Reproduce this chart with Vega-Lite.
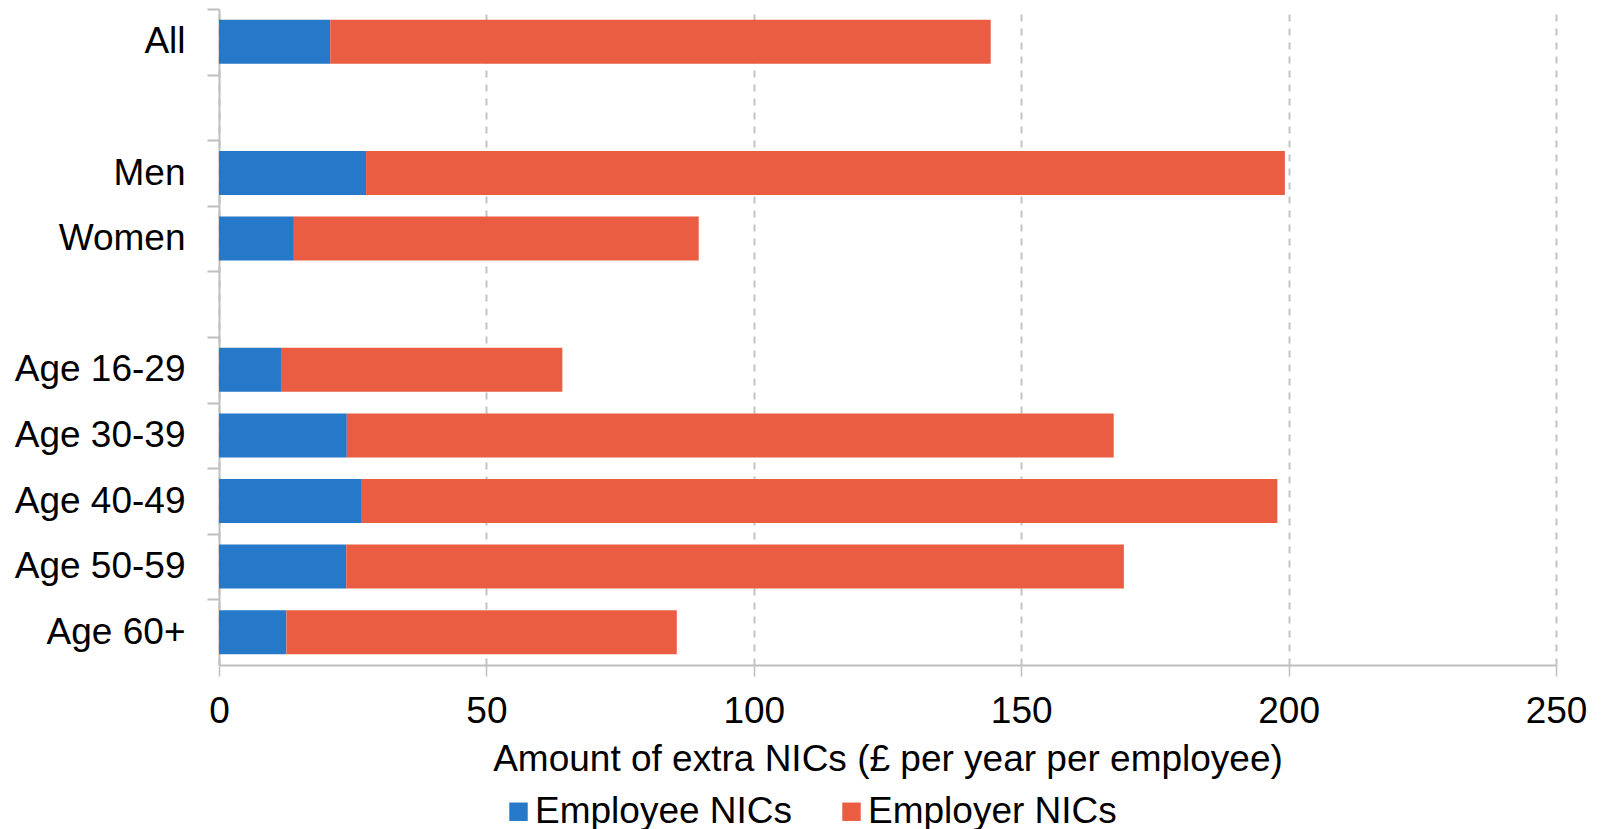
{
  "$schema": "https://vega.github.io/schema/vega-lite/v6.json",
  "width": 1337,
  "height": 656,
  "autosize": {"type": "none"},
  "padding": {"left": 219, "top": 9, "right": 46, "bottom": 164},
  "background": "white",
  "config": {
    "view": {"stroke": null},
    "font": "Liberation Sans"
  },
  "data": {
    "values": [
      {"group": "All", "type": "Employee NICs", "value": 20.8},
      {"group": "All", "type": "Employer NICs", "value": 123.5},
      {"group": "Men", "type": "Employee NICs", "value": 27.5},
      {"group": "Men", "type": "Employer NICs", "value": 171.8},
      {"group": "Women", "type": "Employee NICs", "value": 14.0},
      {"group": "Women", "type": "Employer NICs", "value": 75.7},
      {"group": "Age 16-29", "type": "Employee NICs", "value": 11.6},
      {"group": "Age 16-29", "type": "Employer NICs", "value": 52.6},
      {"group": "Age 30-39", "type": "Employee NICs", "value": 23.9},
      {"group": "Age 30-39", "type": "Employer NICs", "value": 143.4},
      {"group": "Age 40-49", "type": "Employee NICs", "value": 26.7},
      {"group": "Age 40-49", "type": "Employer NICs", "value": 171.2},
      {"group": "Age 50-59", "type": "Employee NICs", "value": 23.8},
      {"group": "Age 50-59", "type": "Employer NICs", "value": 145.4},
      {"group": "Age 60+", "type": "Employee NICs", "value": 12.6},
      {"group": "Age 60+", "type": "Employer NICs", "value": 73.0}
    ]
  },
  "mark": {"type": "bar"},
  "encoding": {
    "y": {
      "field": "group",
      "type": "nominal",
      "scale": {
        "domain": ["All", "gap1", "Men", "Women", "gap2", "Age 16-29", "Age 30-39", "Age 40-49", "Age 50-59", "Age 60+"],
        "paddingInner": 0.33,
        "paddingOuter": 0.165
      },
      "axis": {
        "title": null,
        "labelExpr": "datum.label == 'gap1' || datum.label == 'gap2' ? '' : datum.label",
        "tickOffset": -32.8,
        "labelOffset": 32.8,
        "domainColor": "#BFBFBF",
        "domainWidth": 2,
        "tickColor": "#BFBFBF",
        "tickWidth": 2,
        "tickSize": 12,
        "labelPadding": 22,
        "labelFontSize": 37,
        "labelColor": "#000000",
        "grid": false
      }
    },
    "x": {
      "field": "value",
      "type": "quantitative",
      "stack": "zero",
      "scale": {"domain": [0, 250], "nice": false},
      "axis": {
        "title": "Amount of extra NICs (£ per year per employee)",
        "values": [0, 50, 100, 150, 200, 250],
        "labelFlush": false,
        "grid": true,
        "gridColor": "#C4C4C4",
        "gridDash": [7, 7],
        "gridWidth": 2,
        "domainColor": "#BFBFBF",
        "domainWidth": 2,
        "tickColor": "#BFBFBF",
        "tickWidth": 1.5,
        "tickSize": 11,
        "labelPadding": 17,
        "labelFontSize": 37,
        "labelColor": "#000000",
        "titleFontSize": 37,
        "titleFontWeight": "normal",
        "titleColor": "#000000",
        "titlePadding": 12
      }
    },
    "color": {
      "field": "type",
      "type": "nominal",
      "scale": {"domain": ["Employee NICs", "Employer NICs"], "range": ["#2678C8", "#EB5D43"]},
      "legend": {
        "title": null,
        "orient": "none",
        "legendX": 281,
        "legendY": 784,
        "padding": 0,
        "direction": "horizontal",
        "symbolType": "square",
        "symbolSize": 340,
        "labelFontSize": 37,
        "labelColor": "#000000",
        "labelLimit": 400,
        "labelOffset": -2,
        "columnPadding": 40
      }
    }
  }
}
